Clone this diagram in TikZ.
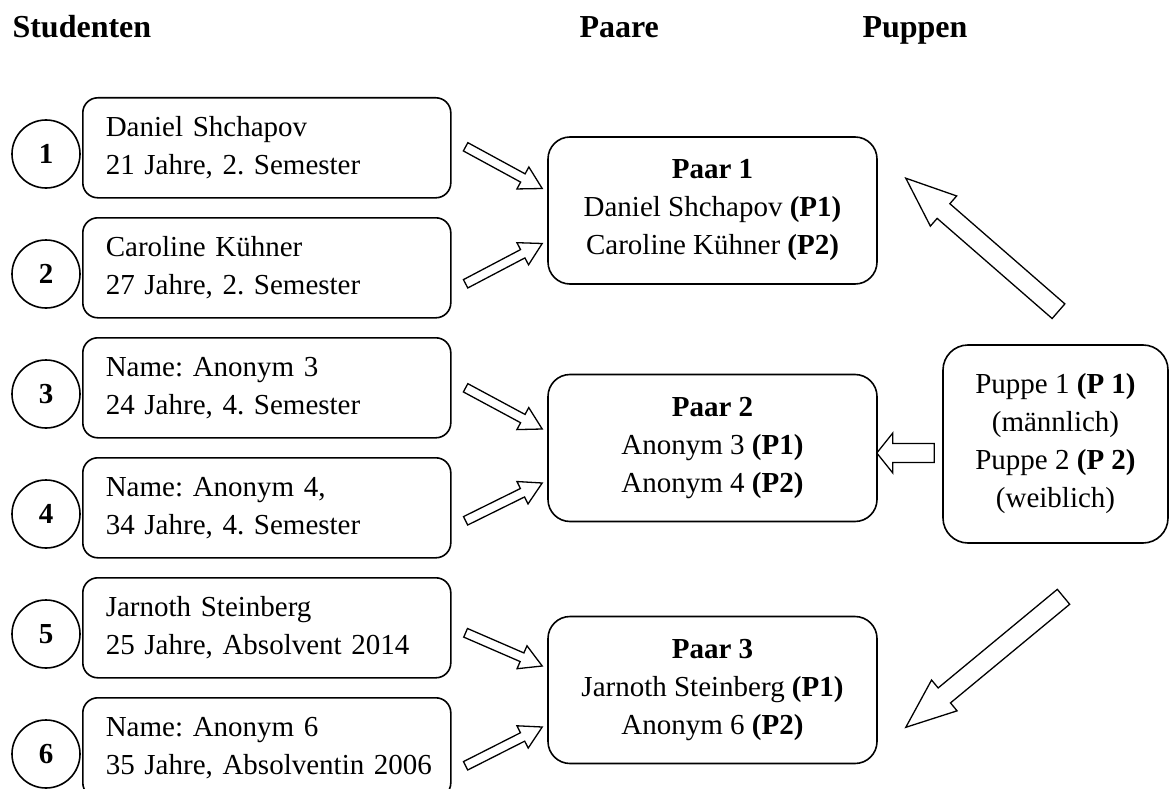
\documentclass[tikz,border=0pt]{standalone}
\usepackage{fontspec}
\setmainfont{Liberation Serif}
\usetikzlibrary{calc}

% hollow block arrow: tail, tip, shaft half width, head half width, head length
\newcommand\blockarrow[5]{%
    \coordinate (neck) at ($(#2)!#5!(#1)$);
    \draw[arr] ($(#1)!#3!90:(#2)$) -- ($(neck)!#3!90:(#2)$)
        -- ($(neck)!#4!90:(#2)$) -- (#2) -- ($(neck)!#4!-90:(#2)$)
        -- ($(neck)!#3!-90:(#2)$) -- ($(#1)!#3!-90:(#2)$) -- cycle;
}

\begin{document}
\frenchspacing
\begin{tikzpicture}[x=1pt, y=-1pt,
        font=\fontsize{29}{38}\selectfont,
        stud/.style={draw, line width=1.6pt, rounded corners=15pt,
                        anchor=north west, align=left, text width=322pt,
                        inner xsep=23pt, inner ysep=0pt, minimum height=100pt},
        num/.style={circle, draw, line width=1.6pt, inner sep=0pt,
                        minimum size=68pt, font=\fontsize{29}{38}\selectfont\bfseries},
        paar/.style={draw, line width=1.6pt, rounded corners=22pt, align=center,
                        minimum width=329pt, minimum height=147pt},
        head/.style={anchor=base west, font=\fontsize{32}{38}\selectfont\bfseries},
        arr/.style={line width=1.3pt}]
    \useasboundingbox (0,0) rectangle (1170,789);

    \node[head] (tstud) at (9,38) {Studenten};
    \node[head] (tpaar) at (576,38) {Paare};
    \node[head] (tpup) at (859,38) {Puppen};

    \foreach \i/\na/\nb in {1/Daniel Shchapov/{21 Jahre, 2. Semester},
                            2/Caroline Kühner/{27 Jahre, 2. Semester},
                            3/Name: Anonym 3/{24 Jahre, 4. Semester},
                            4/{Name: Anonym 4,}/{34 Jahre, 4. Semester},
                            5/Jarnoth Steinberg/{25 Jahre, Absolvent 2014},
                            6/Name: Anonym 6/{35 Jahre, Absolventin 2006}} {
        \node[stud] (s\i) at (82,{97+120*(\i-1)}) {\mbox{\na}\\\mbox{\nb}};
        \node[num] (c\i) at (46,{154+120*(\i-1)}) {\i};
    }

    \node[paar] (p1) at (712.5,210.5)
        {\textbf{Paar 1}\\Daniel Shchapov \textbf{(P1)}\\Caroline Kühner \textbf{(P2)}};
    \node[paar] (p2) at (712.5,448)
        {\textbf{Paar 2}\\Anonym 3 \textbf{(P1)}\\Anonym 4 \textbf{(P2)}};
    \node[paar] (p3) at (712.5,690)
        {\textbf{Paar 3}\\Jarnoth Steinberg \textbf{(P1)}\\Anonym 6 \textbf{(P2)}};

    \node[draw, line width=1.6pt, rounded corners=25pt, align=center,
            minimum width=225pt, minimum height=198pt] (pu) at (1055.5,444)
        {Puppe 1 \textbf{(P 1)}\\(männlich)\\Puppe 2 \textbf{(P 2)}\\(weiblich)};

    \foreach \i/\p/\dt/\dh in {1/1/-1/-22, 2/1/16/33, 3/2/0/-19,
                               4/2/13/35, 5/3/5/-24, 6/3/18/37} {
        \coordinate (t\i) at ([shift={(14,\dt)}]s\i.east);
        \coordinate (h\i) at ([shift={(-5,\dh)}]p\p.west);
        \blockarrow{t\i}{h\i}{4.7pt}{12.5pt}{22pt}
    }

    \coordinate (bt1) at ([shift={(3,-33)}]pu.north);
    \coordinate (bh1) at ([shift={(28,42)}]p1.north east);
    \coordinate (bt2) at ([shift={(-8,9)}]pu.west);
    \coordinate (bh2) at ([shift={(-1,5)}]p2.east);
    \coordinate (bt3) at ([shift={(8,53)}]pu.south);
    \coordinate (bh3) at ([shift={(28,-37)}]p3.south east);
    \blockarrow{bt1}{bh1}{9.7pt}{20pt}{50pt}
    \blockarrow{bt2}{bh2}{9.5pt}{20pt}{16pt}
    \blockarrow{bt3}{bh3}{9.7pt}{20pt}{50pt}
\end{tikzpicture}
\end{document}
